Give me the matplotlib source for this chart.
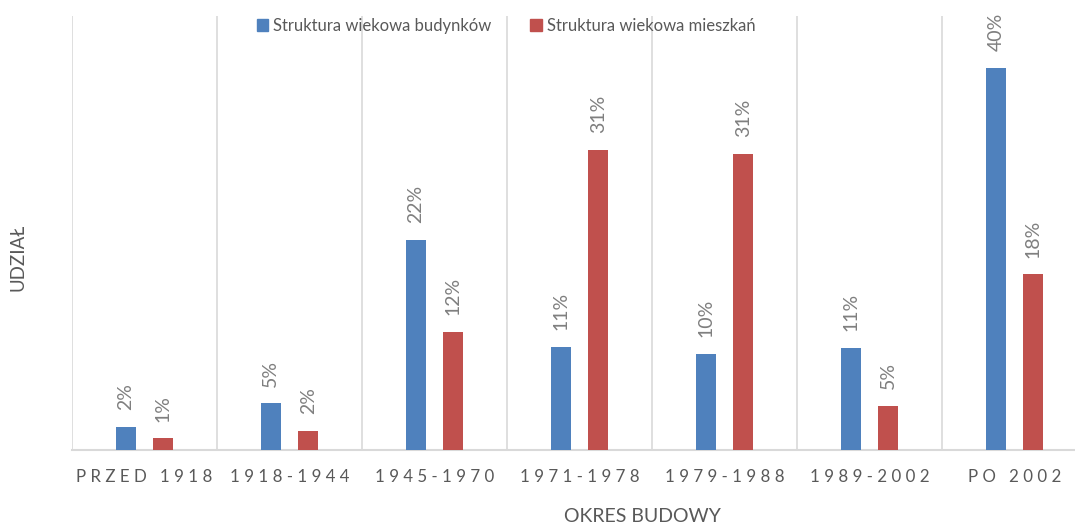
import matplotlib
matplotlib.use("Agg")
import matplotlib.pyplot as plt
import numpy as np
from matplotlib.patches import Patch

plt.rcParams['font.family'] = ['Lato', 'DejaVu Sans']

categories = ["PRZED 1918", "1918-1944", "1945-1970", "1971-1978", "1979-1988", "1989-2002", "PO 2002"]
budynki = [2.4, 4.9, 22.0, 10.8, 10.1, 10.7, 40.0]
mieszkania = [1.23, 1.99, 12.4, 31.4, 31.0, 4.6, 18.4]
series_names = ["Struktura wiekowa budynków", "Struktura wiekowa mieszkań"]

BLUE = "#4F81BD"
RED = "#C0504D"
TXT = "#595959"
LBL = "#7F7F7F"
GRID = "#D9D9D9"

W, H = 1075, 526
fig = plt.figure(figsize=(W / 100, H / 100), dpi=100)
ax = fig.add_axes([72 / W, (H - 450) / H, 1015 / W, 434 / H])

x = np.arange(len(categories))
bw = 0.138
off = 0.129
b1 = ax.bar(x - off, budynki, bw, color=BLUE, zorder=3)
b2 = ax.bar(x + off, mieszkania, bw, color=RED, zorder=3)

ax.set_xlim(-0.5, len(categories) - 0.5)
ax.set_ylim(0, 45.45)

for bars, vals in ((b1, budynki), (b2, mieszkania)):
    for rect, v in zip(bars, vals):
        ax.annotate(f"{round(v)}%", (rect.get_x() + rect.get_width() / 2, v),
                    xytext=(0, 12), textcoords="offset points",
                    rotation=90, ha="center", va="bottom",
                    fontsize=14, color=LBL)

for b in np.arange(len(categories) + 1) - 0.5:
    ax.axvline(b, color=GRID, lw=1.2, zorder=1)

for s in ("top", "right", "left"):
    ax.spines[s].set_visible(False)
ax.spines["bottom"].set_color(GRID)
ax.spines["bottom"].set_linewidth(1.5)
ax.set_yticks([])
ax.set_xticks(x)

def spaced(t):
    return "   ".join(" ".join(w) for w in t.split(" "))

ax.set_xticklabels([spaced(c) for c in categories], fontsize=12.2, color=TXT)
ax.tick_params(axis="x", length=0, pad=14)

fig.text(18 / W, 1 - 257 / H, "UDZIAŁ", rotation=90, ha="center", va="center",
         fontsize=13.5, color=TXT)
fig.text(642 / W, 1 - 517 / H, "OKRES BUDOWY", ha="center", va="center",
         fontsize=14, color=TXT)

handles = [Patch(color=BLUE), Patch(color=RED)]
fig.legend(handles, series_names, loc="center", bbox_to_anchor=(506 / W, 1 - 26 / H),
           ncol=2, frameon=False, fontsize=12, labelcolor=TXT,
           handlelength=0.7, handleheight=0.7, handletextpad=0.3, columnspacing=2.3)

fig.savefig("out.png", dpi=100)
